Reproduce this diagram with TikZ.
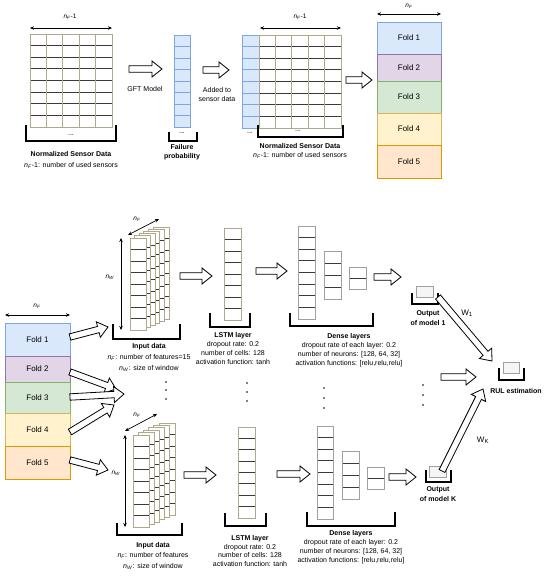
\documentclass[tikz,border=0pt]{standalone}
\usepackage{fontspec}
\setmainfont{Liberation Sans}
\usetikzlibrary{calc,arrows.meta}
\definecolor{gtan}{HTML}{B0A88C}
\definecolor{gdark}{HTML}{3A3A3A}
\definecolor{bfill}{HTML}{DAE8FC}
\definecolor{bline}{HTML}{7EA6E0}
\definecolor{pfill}{HTML}{E1D5E7}
\definecolor{pline}{HTML}{9673A6}
\definecolor{gfill}{HTML}{D5E8D4}
\definecolor{gline}{HTML}{82B366}
\definecolor{yfill}{HTML}{FFF2CC}
\definecolor{yline}{HTML}{D6B656}
\definecolor{ofill}{HTML}{FFE6CC}
\definecolor{oline}{HTML}{D79B00}
\definecolor{dgray}{HTML}{A0A0A0}
\definecolor{outfill}{HTML}{F5F5F5}

\newcommand\nF{\textit{n}\textsubscript{\textit{F}}}
\newcommand\nW{\textit{n}\textsubscript{\textit{W}}}

% column of cells: x0,y0,x1,y1,n,border,inner line,fill
\newcommand\cellcol[8]{%
  \fill[#8] (#1,#2) rectangle (#3,#4);
  \foreach \k in {1,...,#5}{\draw[#7, line width=0.8pt] (#1,{#2+(#4-#2)*\k/#5}) -- (#3,{#2+(#4-#2)*\k/#5});}
  \draw[#6, line width=0.8pt] (#1,#2) rectangle (#3,#4);
}
% 5x8 grid
\newcommand\sgrid[4]{%
  \fill[white] (#1,#2) rectangle (#3,#4);
  \foreach \k in {1,...,8}{\draw[gdark,line width=0.8pt] (#1,{#2+(#4-#2)*\k/8}) -- (#3,{#2+(#4-#2)*\k/8});}
  \foreach \k in {1,...,4}{\draw[gtan,line width=0.9pt] ({#1+(#3-#1)*\k/5},#2) -- ({#1+(#3-#1)*\k/5},#4);}
  \draw[gtan,line width=0.9pt] (#1,#2) rectangle (#3,#4);
}
% bracket
\newcommand\brk[4]{\draw[line width=1.3pt] (#1,#2) -- (#1,#4) -- (#3,#4) -- (#3,#2);}
% stack of sheets: x0 y0 w h dx dy
\newcommand\sheetstack[6]{%
  \foreach \s in {5,4,...,0}{%
    \pgfmathsetmacro\cxa{#1+\s*#5}\pgfmathsetmacro\cya{#2+\s*#6}%
    \pgfmathsetmacro\cxb{\cxa+#3}\pgfmathsetmacro\cyb{\cya+#4}%
    \cellcol{\cxa}{\cya}{\cxb}{\cyb}{8}{gtan}{gdark}{white}
  }
}
% hollow arrow between two named coordinates
\newcommand\harrow[2]{%
  \draw[hollow] let \p1=(#1), \p2=(#2),
     \n1={atan2(\y2-\y1,\x2-\x1)},
     \n2={veclen(\x2-\x1,\y2-\y1)-10}
   in ($(\p1)+(\n1+90:3.2pt)$) -- ($(\p1)+(\n1:\n2)+(\n1+90:3.2pt)$)
   -- ($(\p1)+(\n1:\n2)+(\n1+90:8pt)$) -- (\p2)
   -- ($(\p1)+(\n1:\n2)+(\n1-90:8pt)$) -- ($(\p1)+(\n1:\n2)+(\n1-90:3.2pt)$)
   -- ($(\p1)+(\n1-90:3.2pt)$) -- cycle;
}

\begin{document}
\begin{tikzpicture}[x=1pt,y=-1pt,
  hollow/.style={draw=black, fill=white, line width=0.8pt, line join=miter},
  txt/.style={font=\fontsize{7}{8}\selectfont, inner sep=0pt, align=center},
  btxt/.style={font=\fontsize{7}{8}\selectfont\bfseries, inner sep=0pt, align=center},
  mtxt/.style={font=\fontsize{7}{9}\selectfont, inner sep=0pt, align=center},
  small/.style={font=\fontsize{6.5}{7}\selectfont, inner sep=0pt},
  fold/.style={font=\fontsize{8}{9}\selectfont, inner sep=0pt, line width=0.8pt},
  dim/.style={{Stealth[length=4pt,width=3.5pt]}-{Stealth[length=4pt,width=3.5pt]}, line width=0.7pt},
  vdot/.style={fill=black, circle, inner sep=0pt, minimum size=1.8pt}]
\useasboundingbox (0,0) rectangle (550,577);
\fill[white] (0,0) rectangle (550,577);

% ---------------- top row ----------------
\sgrid{30}{34}{112}{127}
\coordinate (g1l) at (30,28); \coordinate (g1r) at (112,28);
\draw[dim] (g1l) -- (g1r);
\node[small] (g1n) at (70,17) {\nF-1};
\brk{26}{125}{116}{141}
\node[txt] (g1d) at (71,135) {...};
\node[btxt] (g1t) at (71,154) {Normalized Sensor Data};
\node[txt] (g1s) at (71,165) {\nF-1: number of used sensors};

\coordinate (a1s) at (129,69); \coordinate (a1e) at (162,69);
\harrow{a1s}{a1e}
\node[txt] (gft) at (145,89) {GFT Model};

\cellcol{174}{35}{190}{127}{8}{bline}{bline}{bfill}
\brk{169}{132}{197}{141}
\node[txt] (fpd) at (182,133) {...};
\node[btxt] (fp1) at (182,147) {Failure};
\node[btxt] (fp2) at (182,157) {probability};

\coordinate (a2s) at (203,70); \coordinate (a2e) at (229,70);
\harrow{a2s}{a2e}
\node[txt] (add1) at (217,90) {Added to};
\node[txt] (add2) at (217,99) {sensor data};

\cellcol{242}{35}{259}{128}{8}{bline}{bline}{bfill}
\sgrid{259}{35}{341}{128}
\coordinate (g2l) at (260,28); \coordinate (g2r) at (341,28);
\draw[dim] (g2l) -- (g2r);
\node[small] (g2n) at (300,17) {\nF-1};
\brk{258}{125}{343}{137}
\node[txt] (g2d1) at (250,133) {...};
\node[txt] (g2d2) at (298,131) {...};
\node[btxt] (g2t) at (300,146) {Normalized Sensor Data};
\node[txt] (g2s) at (300,155) {\nF-1: number of used sensors};

\coordinate (a3s) at (346,80); \coordinate (a3e) at (372,80);
\harrow{a3s}{a3e}

\node[fold, fill=bfill, draw=bline, minimum width=64, minimum height=32] (tf1) at (409,38) {Fold 1};
\node[fold, fill=pfill, draw=pline, minimum width=64, minimum height=27] (tf2) at (409,67.5) {Fold 2};
\node[fold, fill=gfill, draw=gline, minimum width=64, minimum height=32] (tf3) at (409,97) {Fold 3};
\node[fold, fill=yfill, draw=yline, minimum width=64, minimum height=32] (tf4) at (409,129) {Fold 4};
\node[fold, fill=ofill, draw=oline, minimum width=64, minimum height=33] (tf5) at (409,161.5) {Fold 5};
\coordinate (tfl) at (377,14); \coordinate (tfr) at (441,14);
\draw[dim] (tfl) -- (tfr);
\node[small] (tfn) at (409,6) {\nF};

% ---------------- bottom folds ----------------
\node[fold, fill=bfill, draw=bline, minimum width=65, minimum height=33] (bf1) at (37.5,339.5) {Fold 1};
\node[fold, fill=pfill, draw=pline, minimum width=65, minimum height=26] (bf2) at (37.5,369) {Fold 2};
\node[fold, fill=gfill, draw=gline, minimum width=65, minimum height=31] (bf3) at (37.5,397.5) {Fold 3};
\node[fold, fill=yfill, draw=yline, minimum width=65, minimum height=33] (bf4) at (37.5,429.5) {Fold 4};
\node[fold, fill=ofill, draw=oline, minimum width=65, minimum height=33] (bf5) at (37.5,462.5) {Fold 5};
\coordinate (bfl) at (5,315); \coordinate (bfr) at (70,315);
\draw[dim] (bfl) -- (bfr);
\node[small] (bfn) at (37,306) {\nF};

\coordinate (f1s) at (70,337); \coordinate (f1e) at (108,327);
\coordinate (f2s) at (70,372); \coordinate (f2e) at (116,389);
\coordinate (f3s) at (70,397); \coordinate (f3e) at (124,394);
\coordinate (f4s) at (70,432); \coordinate (f4e) at (114,405);
\coordinate (f5s) at (70,460); \coordinate (f5e) at (108,470);
\harrow{f1s}{f1e}
\harrow{f2s}{f2e}
\harrow{f3s}{f3e}
\harrow{f4s}{f4e}
\harrow{f5s}{f5e}

% ---------------- model 1 ----------------
\sheetstack{130}{238}{16}{92}{4.6}{-2.2}
\coordinate (c1a) at (128,235); \coordinate (c1b) at (159,219);
\draw[dim] (c1a) -- (c1b);
\node[small] (c1nf) at (137,219) {\nF};
\coordinate (c1t) at (121,238); \coordinate (c1u) at (121,330);
\draw[dim] (c1t) -- (c1u);
\node[small] (c1nw) at (110,277) {\nW};
\brk{113}{324}{180}{339}
\node[btxt] (in1a) at (149,347) {Input data};
\node[txt] (in1b) at (149,357) {\nF: number of features=15};
\node[txt] (in1c) at (149,368) {\nW: size of window};

\coordinate (b1s) at (180,276); \coordinate (b1e) at (212,276);
\harrow{b1s}{b1e}

\cellcol{224}{228}{241}{320}{8}{gtan}{gdark}{white}
\brk{210}{313}{250}{327}
\node[mtxt] (ls1) at (233,348.5) {\textbf{LSTM layer}\\dropout rate: 0.2\\number of cells: 128\\activation function: tanh};

\coordinate (b2s) at (256,271); \coordinate (b2e) at (287,271);
\harrow{b2s}{b2e}

\cellcol{298}{226}{315}{319}{8}{dgray}{gdark}{white}
\cellcol{324}{251}{341}{299}{4}{dgray}{gdark}{white}
\cellcol{349}{267}{366}{289}{2}{dgray}{gdark}{white}
\brk{290}{313}{373}{326}
\node[mtxt] (dn1) at (349,350) {\textbf{Dense layers}\\dropout rate of each layer: 0.2\\number of neurons: [128, 64, 32]\\activation functions: [relu,relu,relu]};

\coordinate (b3s) at (374,277); \coordinate (b3e) at (401,277);
\harrow{b3s}{b3e}

\draw[fill=outfill, draw=dgray, line width=0.8pt] (416,286) rectangle (433,297);
\brk{412}{293}{438}{304}
\node[btxt, font=\fontsize{7}{10}\selectfont\bfseries] (o1) at (428,318) {Output\\of model 1};

% ---------------- dots ----------------
\foreach \yy [count=\i] in {382,390,399}{\node[vdot] (di\i) at (166,\yy) {};}
\foreach \yy [count=\i] in {383,392,401}{\node[vdot] (dl\i) at (247,\yy) {};}
\foreach \yy [count=\i] in {388,398,408}{\node[vdot] (dd\i) at (324,\yy) {};}
\foreach \yy [count=\i] in {385,395,405}{\node[vdot] (do\i) at (423,\yy) {};}

% ---------------- model K ----------------
\sheetstack{133}{435}{16}{92}{5.2}{-2.4}
\coordinate (c2a) at (125,431); \coordinate (c2b) at (157,414);
\draw[dim] (c2a) -- (c2b);
\node[small] (c2nf) at (137,415) {\nF};
\coordinate (c2t) at (125,435); \coordinate (c2u) at (125,527);
\draw[dim] (c2t) -- (c2u);
\node[small] (c2nw) at (116,473) {\nW};
\brk{117}{523}{182}{535}
\node[btxt] (in2a) at (153,546) {Input data};
\node[txt] (in2b) at (153,555) {\nF: number of features};
\node[txt] (in2c) at (153,566) {\nW: size of window};

\coordinate (k1s) at (184,475); \coordinate (k1e) at (216,475);
\harrow{k1s}{k1e}

\cellcol{238}{427}{255}{518}{8}{gtan}{gdark}{white}
\brk{225}{513}{266}{526}
\node[mtxt, font=\fontsize{7}{8.7}\selectfont] (ls2) at (250,551) {\textbf{LSTM layer}\\dropout rate: 0.2\\number of cells: 128\\activation function: tanh};

\coordinate (k2s) at (277,474); \coordinate (k2e) at (310,474);
\harrow{k2s}{k2e}

\cellcol{317}{426}{333}{519}{8}{dgray}{gdark}{white}
\cellcol{342}{451}{359}{499}{4}{dgray}{gdark}{white}
\cellcol{367}{467}{384}{489}{2}{dgray}{gdark}{white}
\brk{307}{512}{395}{526}
\node[mtxt] (dn2) at (351,547) {\textbf{Dense layers}\\dropout rate of each layer: 0.2\\number of neurons: [128, 64, 32]\\activation functions: [relu,relu,relu]};

\coordinate (k3s) at (389,477); \coordinate (k3e) at (416,477);
\harrow{k3s}{k3e}

\draw[fill=outfill, draw=dgray, line width=0.8pt] (429,466) rectangle (446,477);
\brk{426}{470}{451}{482}
\node[btxt, font=\fontsize{7}{10}\selectfont\bfseries] (ok) at (438,494) {Output\\of model K};

% ---------------- RUL ----------------
\draw[fill=outfill, draw=dgray, line width=0.8pt] (503,362) rectangle (519,373);
\brk{499}{368}{524}{380}
\node[btxt] (rul) at (516,391) {RUL estimation};

\coordinate (r1s) at (438,297); \coordinate (r1e) at (492,361);
\harrow{r1s}{r1e}
\node[font=\fontsize{8}{9}\selectfont, inner sep=0pt] (w1) at (467,313) {W\textsubscript{1}};
\coordinate (r2s) at (441,377); \coordinate (r2e) at (476,377);
\harrow{r2s}{r2e}
\coordinate (r3s) at (442,471); \coordinate (r3e) at (483,389);
\harrow{r3s}{r3e}
\node[font=\fontsize{8}{9}\selectfont, inner sep=0pt] (wk) at (483,440) {W\textsubscript{K}};
\end{tikzpicture}
\end{document}
